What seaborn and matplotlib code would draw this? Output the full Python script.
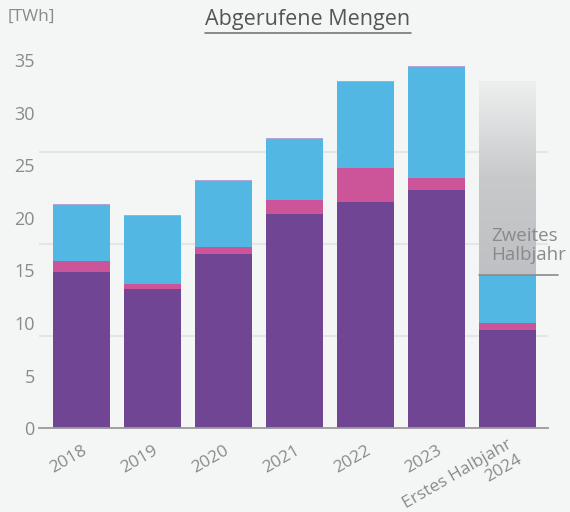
import numpy as np
import pandas as pd
import matplotlib.pyplot as plt
import matplotlib.transforms as mtransforms
import seaborn as sns
from matplotlib.colors import LinearSegmentedColormap

years = ["2018", "2019", "2020", "2021", "2022", "2023", "Erstes Halbjahr\n2024"]
purple = [14.85, 13.25, 16.55, 20.35, 21.5, 22.65, 9.35]
pink = [1.05, 0.45, 0.65, 1.35, 3.25, 1.15, 0.65]
blue = [5.35, 6.5, 6.25, 5.8, 8.15, 10.5, 4.55]
other = [0.1, 0.1, 0.1, 0.1, 0.1, 0.1, 0.0]
second_half_2024 = 18.35
yticks = [0, 5, 10, 15, 20, 25, 30, 35]

bg = "#f4f6f5"
txt = "#8a8a8a"

sns.set_theme(style="white")
plt.rcParams["font.family"] = ["Open Sans", "DejaVu Sans"]

df = pd.DataFrame({"Jahr": years, "purple": purple, "pink": pink,
                   "blue": blue, "other": other})
df["c1"] = df["purple"]
df["c2"] = df["c1"] + df["pink"]
df["c3"] = df["c2"] + df["blue"]
df["c4"] = df["c3"] + df["other"]

fig = plt.figure(figsize=(5.7, 5.12), dpi=100, facecolor=bg)
ax = fig.add_axes([0.0684, 0.1635, 0.8926, 0.7195], facecolor=bg)

# stacked bars: draw cumulative totals, tallest first
for col, colr in [("c4", "#b3a3d8"), ("c3", "#52b8e3"),
                  ("c2", "#cc5599"), ("c1", "#704593")]:
    sns.barplot(data=df, x="Jahr", y=col, color=colr, width=0.8,
                saturation=1, linewidth=0, ax=ax, zorder=3)

# second half of 2024 as grey gradient
last = len(years) - 1
base = df["c3"].iloc[last]
top = base + second_half_2024
cmap = LinearSegmentedColormap.from_list("g", ["#bfc0c3", "#c8c9cb", "#eeefef"])
grad = np.linspace(0, 1, 256).reshape(-1, 1)
ax.imshow(grad, cmap=cmap, origin="lower", aspect="auto",
          extent=[last - 0.4, last + 0.4, base, top], zorder=3)
ax.plot([last - 0.4, last + 0.72], [base, base], color="#8a8a8a",
        lw=1.2, zorder=4, clip_on=False)
ax.text(last - 0.23, base + 1.1, "Zweites\nHalbjahr", color=txt,
        fontsize=13.5, ha="left", va="bottom", linespacing=1.05, zorder=5)

ax.set_xlim(-0.6, 6.57)
ax.set_ylim(0, 35)
ax.set_yticks(yticks)
ax.set_yticks(np.arange(0, 35.1, 8.75), minor=True)
ax.grid(False)
ax.grid(which="minor", axis="y", color="#e4e6e6", lw=1.5, zorder=0)
ax.tick_params(axis="y", which="major", length=2, color="#e0e0e0",
               labelsize=13, labelcolor=txt, pad=1)
ax.tick_params(axis="y", which="minor", length=0)
ax.tick_params(axis="x", length=0, labelsize=12.5, labelcolor=txt, pad=10)

# x labels: first line as tick label, second line as separate text
ax.set_xticks(range(len(years)), [y.split("\n")[0] for y in years])
for lab in ax.get_xticklabels():
    lab.set_rotation(30)
    lab.set_ha("right")
    lab.set_va("top")
    lab.set_rotation_mode("anchor")
lift = 6 / 100
lab = ax.get_xticklabels()[last]
lab.set_transform(lab.get_transform()
                  + mtransforms.ScaledTranslation(0, lift, fig.dpi_scale_trans))
for i, y in enumerate(years):
    parts = y.split("\n")
    if len(parts) > 1:
        tr = ax.get_xaxis_transform() + mtransforms.ScaledTranslation(
            0.09, -10 / 72 + lift - 0.156, fig.dpi_scale_trans)
        ax.text(i, 0, parts[1], transform=tr, rotation=30, ha="right",
                va="top", rotation_mode="anchor", fontsize=12.5, color=txt)

ax.set_xlabel("")
ax.set_ylabel("")
for s in ["left", "right", "top"]:
    ax.spines[s].set_visible(False)
ax.spines["bottom"].set_color("#9a9a9a")
ax.spines["bottom"].set_linewidth(1.3)
ax.spines["bottom"].set_zorder(6)

fig.text(8 / 570, 1 - 17 / 512, "[TWh]", color=txt, fontsize=12.5,
         ha="left", va="center")
title = fig.text(308 / 570, 1 - 20 / 512, "Abgerufene Mengen", color="#555555",
                 fontsize=15.5, ha="center", va="center")
fig.canvas.draw()
bb = title.get_window_extent().transformed(fig.transFigure.inverted())
fig.add_artist(plt.Line2D([bb.x0, bb.x1], [bb.y0 - 0.004, bb.y0 - 0.004],
                          transform=fig.transFigure, color="#777777", lw=1.2))

fig.savefig("out.png", dpi=100, facecolor=bg)
